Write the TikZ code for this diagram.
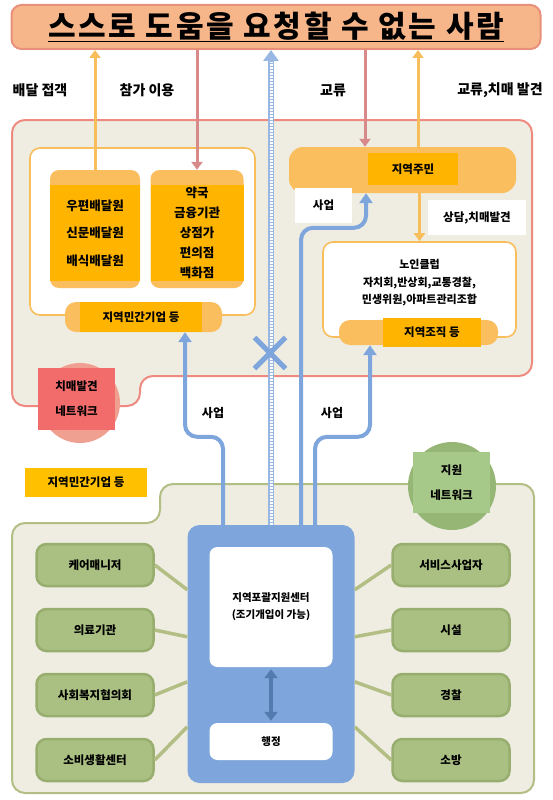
\documentclass[tikz,border=0pt]{standalone}
\usepackage{fontspec}
\setmainfont{Noto Sans CJK KR}
\usetikzlibrary{positioning,calc,arrows.meta,shapes.misc}
\definecolor{titleorange}{RGB}{247,182,138}
\definecolor{titleedge}{RGB}{232,144,122}
\definecolor{regionpink}{RGB}{238,138,128}
\definecolor{regionbeige}{RGB}{239,237,226}
\definecolor{softorange}{RGB}{248,190,92}
\definecolor{pillorange}{RGB}{251,190,94}
\definecolor{deeporange}{RGB}{255,180,0}
\definecolor{legendgold}{RGB}{255,192,0}
\definecolor{arrowpink}{RGB}{216,138,138}
\definecolor{hubblue}{RGB}{126,166,220}
\definecolor{darkblue}{RGB}{84,122,176}
\definecolor{leafgreen}{RGB}{170,192,130}
\definecolor{leafedge}{RGB}{152,174,110}
\definecolor{edgegreen}{RGB}{178,190,132}
\definecolor{alarmred}{RGB}{243,108,108}
\definecolor{alarmdisc}{RGB}{240,160,144}
\definecolor{netgreen}{RGB}{166,200,136}
\definecolor{netdisc}{RGB}{150,182,118}

\begin{document}
\begin{tikzpicture}[x=1pt,y=-1pt,
  lbl/.style={font=\bfseries\fontsize{12}{14}\selectfont, inner sep=0pt},
  toplbl/.style={font=\bfseries\fontsize{14}{16}\selectfont, inner sep=0pt},
  frame/.style={draw=softorange, line width=1.6pt, fill=white, rounded corners=10pt},
  boxcap/.style={fill=pillorange, rounded corners=9pt, minimum height=118pt},
  core/.style={fill=deeporange, minimum height=96pt, align=center, inner sep=0pt},
  pill/.style={fill=pillorange, rounded corners=11pt},
  pillcore/.style={fill=deeporange, inner sep=0pt, font=\bfseries\fontsize{11.5}{13}\selectfont},
  tag/.style={fill=white, inner sep=0pt, font=\bfseries\fontsize{11.5}{13}\selectfont},
  netbox/.style={align=center, inner sep=0pt, minimum width=77pt, font=\bfseries\fontsize{11.5}{25}\selectfont},
  leaf/.style={draw=leafedge, line width=2.5pt, fill=leafgreen, rounded corners=10pt, minimum width=117pt, minimum height=42pt, font=\bfseries\fontsize{11.5}{13}\selectfont},
  hubcard/.style={fill=white, rounded corners=8pt, minimum width=123pt, align=center, font=\bfseries\fontsize{10.5}{17}\selectfont},
  uparrow/.style={line width=3pt, -{Triangle[width=11pt,length=8pt]}},
  bizarrow/.style={hubblue, line width=4pt, rounded corners=12pt, -{Triangle[width=13pt,length=10pt]}},
  link/.style={edgegreen, line width=3.5pt}
]
\useasboundingbox (0,0) rectangle (552,800);

% Regions
\draw[edgegreen, line width=2pt, fill=regionbeige, rounded corners=13pt]
  (12,523) -- (160,523) -- (160,484) -- (534,484) -- (534,793) -- (12,793) -- cycle;
\draw[regionpink, line width=2pt, fill=regionbeige, rounded corners=13pt]
  (12,120) -- (532,120) -- (532,376) -- (140,376) -- (140,406) -- (12,406) -- cycle;

% Title
\node[draw=titleedge, line width=2pt, fill=titleorange, rounded corners=10pt,
      minimum width=529pt, minimum height=44pt,
      font=\bfseries\fontsize{30}{32}\selectfont\addfontfeatures{LetterSpace=9}] (title) at (276,27)
      {\underline{스스로 도움을 요청할 수 없는 사람}};

\node[toplbl] (lbldeliver) at (40,90) {배달 접객};
\node[toplbl] (lbljoin) at (147,90) {참가 이용};
\node[toplbl] (lblmeet) at (333,90) {교류};
\node[toplbl] (lblfind) at (500,90) {교류,치매 발견};

% Left block
\node[frame, minimum width=225pt, minimum height=167pt] (leftframe) at (142.5,231.5) {};
\node[boxcap, minimum width=90pt] (postcap) at (95,229) {};
\node[core, minimum width=90pt, font=\bfseries\fontsize{12.5}{27.5}\selectfont] (post) at (95,233)
  {우편배달원\\신문배달원\\배식배달원};
\node[boxcap, minimum width=93pt] (shopcap) at (197,229) {};
\node[core, minimum width=93pt, font=\bfseries\fontsize{12.5}{20}\selectfont] (shop) at (197,233)
  {약국\\금융기관\\상점가\\편의점\\백화점};
\node[pill, minimum width=157pt, minimum height=30pt] (bizpill) at (143.5,317) {};
\node[pillcore, minimum width=122pt, minimum height=30pt] (biz) at (141,317) {지역민간기업 등};

% Right block
\node[pill, rounded corners=14pt, minimum width=227pt, minimum height=46pt] (juminpill) at (402.5,170) {};
\node[pillcore, minimum width=90pt, minimum height=32pt] (jumin) at (413,169) {지역주민};
\node[frame, minimum width=193pt, minimum height=95pt] (rightframe) at (419.5,289.5) {};
\node[lbl, align=center, font=\bfseries\fontsize{11}{17.5}\selectfont] (clubs) at (419.5,283)
  {노인클럽\\자치회,반상회,교통경찰,\\민생위원,아파트관리조합};
\node[pill, minimum width=159pt, minimum height=25pt] (orgpill) at (418.5,332.5) {};
\node[pillcore, minimum width=98pt, minimum height=29pt] (org) at (432,332.5) {지역조직 등};
\node[tag, minimum width=57pt, minimum height=35pt] (biztag) at (323.5,205.5) {사업};
\node[tag, minimum width=98pt, minimum height=35pt] (talktag) at (477,217.5) {상담,치매발견};

% Arrows to and from the title
\coordinate (pinkin) at ($(juminpill.north)+(-37.5,0)$);
\coordinate (chatout) at ($(juminpill.north)+(15.5,0)$);
\draw[uparrow, softorange] (postcap.north) -- (postcap.north |- title.south);
\draw[uparrow, arrowpink] (title.south -| shopcap.north) -- (shopcap.north);
\draw[uparrow, arrowpink] (title.south -| pinkin) -- (pinkin);
\draw[uparrow, softorange] (chatout) -- (chatout |- title.south);
\draw[uparrow, softorange] (juminpill.south -| rightframe.north) -- (rightframe.north);

% Networks
\node[circle, fill=alarmdisc, minimum size=80pt] (alarmdisc) at (80,403) {};
\node[netbox, fill=alarmred, minimum height=62pt] (alarm) at (76.5,399) {치매발견\\네트워크};
\node[circle, fill=netdisc, minimum size=88pt] (netdisc) at (452,486) {};
\node[netbox, fill=netgreen, minimum height=61pt] (net) at (451.5,482.5) {지원\\네트워크};
\node[fill=legendgold, minimum width=122pt, minimum height=29pt, inner sep=0pt,
      font=\bfseries\fontsize{11.5}{13}\selectfont] (bizlegend) at (86,482.5) {지역민간기업 등};

% Hub
\node[fill=hubblue, rounded corners=12pt, minimum width=167pt, minimum height=258pt] (hub) at (271,654) {};
\node[hubcard, minimum height=120pt] (center) at (271,607) {지역포괄지원센터\\(조기개입이 가능)};
\node[hubcard, minimum height=37pt] (admin) at (271,741.5) {행정};
\draw[darkblue, line width=4.5pt, {Triangle[width=13pt,length=9pt]}-{Triangle[width=13pt,length=9pt]},
      shorten <=2pt, shorten >=2pt] (center.south) -- (admin.north);

% Business arrows
\draw[bizarrow] ($(hub.north)+(-48,0)$) -- ++(0,-88) -| ($(bizpill.south)+(41.5,0)$);
\draw[bizarrow] ($(hub.north)+(30,0)$) -- ++(0,-297) -| ($(juminpill.south)+(-36.5,0)$);
\draw[bizarrow] ($(hub.north)+(44,0)$) -- ++(0,-88) -| ($(orgpill.south)+(-48.5,0)$);
\node[lbl] (bizlbl1) at (213,413) {사업};
\node[lbl] (bizlbl2) at (332,413) {사업};

% Blocked request
\draw[hubblue!80, line width=6pt, -{Triangle[width=15pt,length=11pt]}] (hub.north) -- (hub.north |- title.south);
\draw[white, line width=3pt, dash pattern=on 1.5pt off 1.5pt, shorten >=12pt] (hub.north) -- (hub.north |- title.south);
\node[cross out, draw=hubblue, line width=5pt, minimum size=26pt] (nox) at (270,353) {};

% Partners
\node[leaf] (care) at (95,565) {케어매니저};
\node[leaf] (clinic) at (95,630) {의료기관};
\node[leaf] (welfare) at (95,695) {사회복지협의회};
\node[leaf] (consumer) at (95,760) {소비생활센터};
\node[leaf] (service) at (451,565) {서비스사업자};
\node[leaf] (facility) at (451,630) {시설};
\node[leaf] (police) at (451,695) {경찰};
\node[leaf] (fire) at (451,760) {소방};
\foreach \k/\dy in {1/65,2/112,3/157,4/202} {
  \coordinate (hl\k) at ($(hub.north west)+(0,\dy)$);
  \coordinate (hr\k) at ($(hub.north east)+(0,\dy)$);
}
\draw[link] (care.east) -- (hl1);
\draw[link] (clinic.east) -- (hl2);
\draw[link] (welfare.east) -- (hl3);
\draw[link] (consumer.east) -- (hl4);
\draw[link] (service.west) -- (hr1);
\draw[link] (facility.west) -- (hr2);
\draw[link] (police.west) -- (hr3);
\draw[link] (fire.west) -- (hr4);
\end{tikzpicture}
\end{document}
